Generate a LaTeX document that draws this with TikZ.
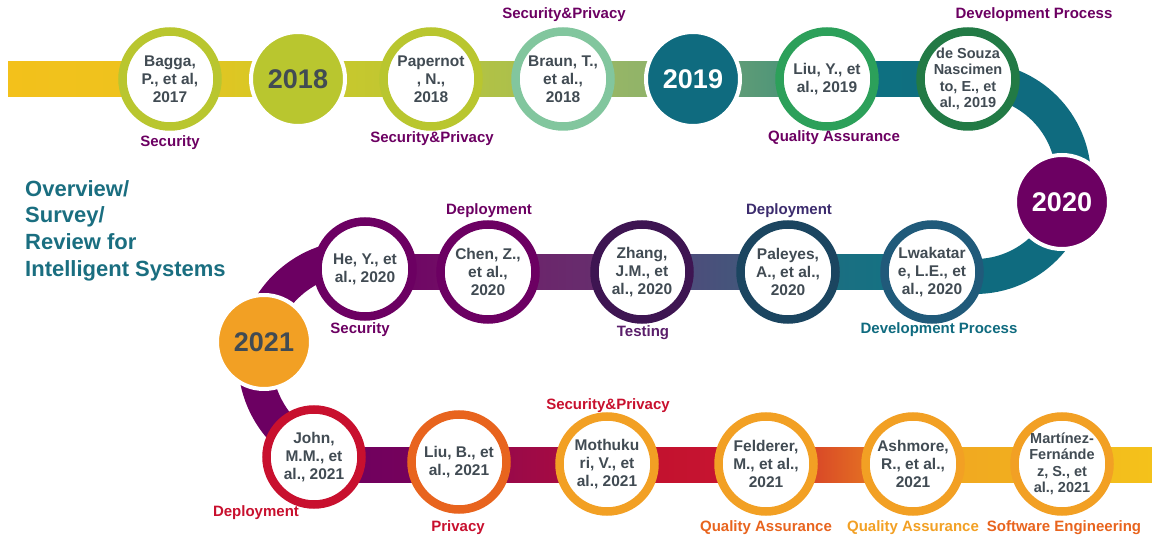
\documentclass[tikz,border=0pt]{standalone}
\usepackage{fontspec}
\setmainfont{Liberation Sans}
\pgfdeclarelayer{background}
\pgfsetlayers{background,main}

\definecolor{clime}{HTML}{B9C62F}
\definecolor{cmint}{HTML}{82C69E}
\definecolor{cgreen}{HTML}{2CA05A}
\definecolor{cdkgreen}{HTML}{227A45}
\definecolor{cteal}{HTML}{0F6B7F}
\definecolor{cblue}{HTML}{205A7A}
\definecolor{cnavy}{HTML}{1B4560}
\definecolor{cplum}{HTML}{3E1552}
\definecolor{cpurple}{HTML}{6C0062}
\definecolor{cred}{HTML}{C8102E}
\definecolor{corange}{HTML}{E8641E}
\definecolor{camber}{HTML}{F2A024}
\definecolor{cgray}{HTML}{414B53}
\definecolor{cindigo}{HTML}{3C2C6E}
\definecolor{cviolet}{HTML}{5A1E6A}
\definecolor{ctitle}{HTML}{1A6E80}

\begin{document}
\begin{tikzpicture}[x=1pt, y=1pt,
    paper/.style={circle, draw=#1, line width=8.5pt, fill=white, minimum size=95pt,
      inner sep=0pt, align=center, text=cgray, font=\bfseries\fontsize{15.5}{18}\selectfont},
    year/.style={circle, fill=#1, draw=white, line width=4pt, minimum size=94pt,
      inner sep=0pt, font=\bfseries\fontsize{27}{30}\selectfont},
    topic/.style={text=#1, inner sep=0pt, font=\bfseries\fontsize{15}{18}\selectfont}]
  \useasboundingbox (0,0) rectangle (1152,538);

  \node[anchor=north west, inner sep=0pt, align=left, text=ctitle,
    font=\bfseries\fontsize{22}{26.7}\selectfont] (title) at (25,358)
    {Overview/\\Survey/\\Review for\\Intelligent Systems};

  % years
  \node[year=clime, text=cgray] (y2018) at (298,459) {2018};
  \node[year=cteal, text=white] (y2019) at (693,459) {2019};
  \node[year=cpurple, text=white] (y2020) at (1062,336) {2020};
  \node[year=camber, text=cgray] (y2021) at (264,196) {2021};

  % papers
  \node[paper=clime] (bagga) at (170,459) {Bagga,\\P., et al,\\2017};
  \node[paper=clime] (papernot) at (431,459) {Papernot\\, N.,\\2018};
  \node[paper=cmint] (braun) at (563,459) {Braun, T.,\\et al.,\\2018};
  \node[paper=cgreen] (liuy) at (827,459) {Liu, Y., et\\al., 2019};
  \node[paper=cdkgreen, font=\bfseries\fontsize{14.5}{16.5}\selectfont] (souza) at (968,459)
    {de Souza\\Nascimen\\to, E., et\\al., 2019};
  \node[paper=cblue] (lwak) at (932,266) {Lwakatar\\e, L.E., et\\al., 2020};
  \node[paper=cnavy] (paleyes) at (788,266) {Paleyes,\\A., et al.,\\2020};
  \node[paper=cplum] (zhang) at (642,266) {Zhang,\\J.M., et\\al., 2020};
  \node[paper=cpurple] (chen) at (488,266) {Chen, Z.,\\et al.,\\2020};
  \node[paper=cpurple] (hey) at (365,269) {He, Y., et\\al., 2020};
  \node[paper=cred] (john) at (314,81) {John,\\M.M., et\\al., 2021};
  \node[paper=corange] (liub) at (459,76) {Liu, B., et\\al., 2021};
  \node[paper=camber] (mothu) at (607,74) {Mothuku\\ri, V., et\\al., 2021};
  \node[paper=camber] (felder) at (766,74) {Felderer,\\M., et al.,\\2021};
  \node[paper=camber] (ashmore) at (913,74) {Ashmore,\\R., et al.,\\2021};
  \node[paper=camber, font=\bfseries\fontsize{14.5}{16.5}\selectfont] (martinez) at (1062,74)
    {Martínez-\\Fernánde\\z, S., et\\al., 2021};

  % topics
  \node[topic=cpurple] (tbagga) at (170,395) {Security};
  \node[topic=cpurple] (tpapernot) at (432,399) {Security\&Privacy};
  \node[topic=cpurple] (tbraun) at (564,523) {Security\&Privacy};
  \node[topic=cpurple] (tliuy) at (834,400) {Quality Assurance};
  \node[topic=cpurple] (tsouza) at (1034,523) {Development Process};
  \node[topic=cpurple] (tchen) at (489,327) {Deployment};
  \node[topic=cindigo] (tpaleyes) at (789,327) {Deployment};
  \node[topic=cviolet] (tzhang) at (643,205) {Testing};
  \node[topic=cteal] (tlwak) at (939,208) {Development Process};
  \node[topic=cpurple] (they) at (360,208) {Security};
  \node[topic=cred] (tjohn) at (256,25) {Deployment};
  \node[topic=cred] (tliub) at (458,10) {Privacy};
  \node[topic=cred] (tmothu) at (608,132) {Security\&Privacy};
  \node[topic=corange] (tfelder) at (766,10) {Quality Assurance};
  \node[topic=camber] (tashmore) at (913,10) {Quality Assurance};
  \node[topic=corange] (tmartinez) at (1064,10) {Software Engineering};

  % track
  \coordinate (tstart) at (8,458.5);
  \coordinate (tlo) at (0,441);
  \coordinate (thi) at (0,476);
  \coordinate (mlo) at (0,248.5);
  \coordinate (mhi) at (0,283.5);
  \coordinate (blo) at (0,55.5);
  \coordinate (bhi) at (0,90.5);
  \coordinate (rtop) at (975,458.5);
  \coordinate (ltop) at (358,281);
  \coordinate (bend) at (1152,73);
  \begin{pgfonlayer}{background}
    \draw[line width=35pt, cteal] (rtop) arc[start angle=90, end angle=-90, radius=98.5]
      coordinate (rbot);
    \draw[line width=34pt, cpurple] (ltop) arc[start angle=90, end angle=270, radius=103];
    \foreach \a/\b/\ca/\cb in {tstart/bagga/F3C11B/EDC31E, bagga/y2018/E8C520/D2C827,
        y2018/papernot/CCC92A/BDC634, papernot/braun/B8C53B/A6BD55,
        braun/y2019/9FBA62/88AF6D, y2019/liuy/6FA377/3E8E78, liuy/rtop/0E7281/0F6D80}
      {\definecolor{ca}{HTML}{\ca}\definecolor{cb}{HTML}{\cb}
       \shade[left color=ca, right color=cb] (\a |- tlo) rectangle (\b |- thi);}
    \foreach \a/\b/\ca/\cb in {hey/chen/6C0062/741368, chen/zhang/6F1F6A/63346F,
        zhang/paleyes/55457A/3B5E7C, paleyes/lwak/1F6D80/117384, lwak/rbot/0F6B7F/0F6B7F}
      {\definecolor{ca}{HTML}{\ca}\definecolor{cb}{HTML}{\cb}
       \shade[left color=ca, right color=cb] (\a |- mlo) rectangle (\b |- mhi);}
    \foreach \a/\b/\ca/\cb in {john/liub/6C0062/7A0258, liub/mothu/8E0850/B00C3C,
        mothu/felder/C0102F/C91630, felder/ashmore/D0262B/EC901F,
        ashmore/martinez/F0A521/F2B21E, martinez/bend/F2B81D/F4C21B}
      {\definecolor{ca}{HTML}{\ca}\definecolor{cb}{HTML}{\cb}
       \shade[left color=ca, right color=cb] (\a |- blo) rectangle (\b |- bhi);}
  \end{pgfonlayer}
\end{tikzpicture}
\end{document}
